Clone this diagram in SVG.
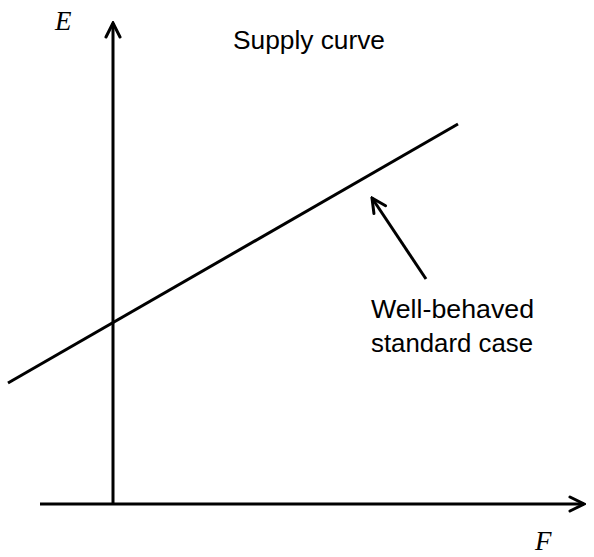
<svg xmlns="http://www.w3.org/2000/svg" width="594" height="557" viewBox="0 0 594 557">
<style>
.ln{stroke:#000;stroke-width:3;fill:none}
.lbl{font-family:"Liberation Sans",Arial,sans-serif;font-size:25px;fill:#000}
.var{font-family:"Liberation Serif","Times New Roman",serif;font-style:italic;font-size:27px;fill:#000}
</style>
<defs>
<marker id="ah" viewBox="0 0 20 20" refX="18" refY="10" markerWidth="20" markerHeight="20" markerUnits="userSpaceOnUse" orient="auto">
<path d="M4,3 L18,10 L4,17" fill="none" stroke="#000" stroke-width="3" stroke-linecap="round" stroke-linejoin="miter"/>
</marker>
</defs>
<rect width="594" height="557" fill="#fff"/>
<g id="connectors">
<line id="y-axis" class="ln" x1="113" y1="504" x2="113" y2="23" marker-end="url(#ah)"/>
<line id="x-axis" class="ln" x1="40" y1="504" x2="584" y2="504" marker-end="url(#ah)"/>
<line id="supply-line" class="ln" x1="8" y1="383" x2="458" y2="124"/>
<line id="pointer" class="ln" x1="426" y1="279" x2="372" y2="198" marker-end="url(#ah)"/>
</g>
<g id="label-E"><text class="var" x="55" y="30">E</text></g>
<g id="label-F"><text class="var" x="535" y="550">F</text></g>
<g id="title"><text class="lbl" x="233" y="49" textLength="152" lengthAdjust="spacingAndGlyphs">Supply curve</text></g>
<g id="annotation">
<text class="lbl" x="371" y="318" textLength="163" lengthAdjust="spacingAndGlyphs">Well-behaved</text>
<text class="lbl" x="371" y="352" textLength="162" lengthAdjust="spacingAndGlyphs">standard case</text>
</g>
</svg>
